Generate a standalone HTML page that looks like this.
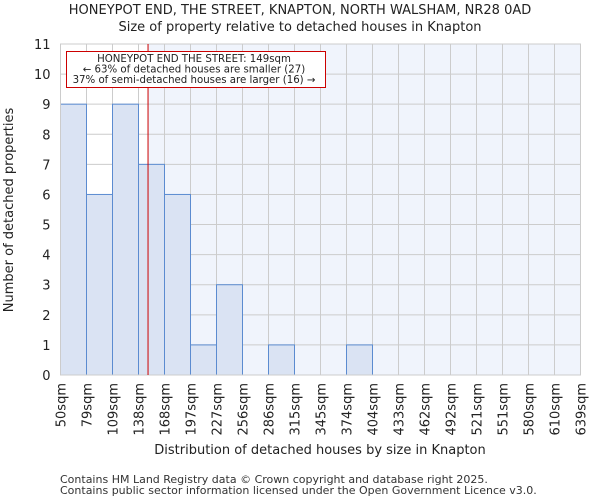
<!DOCTYPE html>
<html><head><meta charset="utf-8"><style>body{margin:0;background:#fff}svg{display:block;font-family:"DejaVu Sans","Liberation Sans",sans-serif}</style></head>
<body>
<svg id="c" width="600" height="500"></svg>
<script>
const binEdges=[50,79,109,138,168,197,227,256,286,315,345,374,404,433,462,492,521,551,580,610,639];
const counts=[9,6,9,7,6,1,3,0,1,0,0,1,0,0,0,0,0,0,0,0];
const yTicks=[0,1,2,3,4,5,6,7,8,9,10,11];
const subjectSize=149;
const NS="http://www.w3.org/2000/svg";
const svg=document.getElementById('c');
const L=60.5,R=580.5,T=44,B=375,nb=counts.length,bw=(R-L)/nb;
function xi(i){return L+i*bw;}
function xv(v){let i=0;while(i<nb-1&&v>binEdges[i+1])i++;return xi(i)+(v-binEdges[i])/(binEdges[i+1]-binEdges[i])*bw;}
function y(v){return B-(v/11)*(B-T);}
function el(t,a,p){const e=document.createElementNS(NS,t);for(const k in a)e.setAttribute(k,a[k]);(p||svg).appendChild(e);return e;}
const sx=xv(subjectSize);
const bg=el('rect',{x:sx,y:T,width:R-sx,height:B-T,fill:'#f0f4fc'});


for(let i=0;i<=nb;i++){const g=el('line',{x1:xi(i),x2:xi(i),y1:T,y2:B,stroke:'#cccccc'});

}
yTicks.forEach(v=>{const g=el('line',{x1:L,x2:R,y1:y(v),y2:y(v),stroke:'#cccccc'});


const t=el('text',{x:L-10,y:y(v)+5,'text-anchor':'end','font-size':13,fill:'#222'});t.textContent=v;

});
counts.forEach((c,i)=>{if(c>0){const r=el('rect',{x:xi(i),y:y(c),width:bw,height:B-y(c),fill:'#dae3f3',stroke:'#5b8bd0','stroke-width':1});

}});
binEdges.forEach((v,i)=>{const t=el('text',{transform:`translate(${xi(i)+5},${B+8}) rotate(-90)`,'text-anchor':'end','font-size':13,fill:'#222'});t.textContent=v+'sqm';

});
const ax=el('rect',{x:L,y:T,width:R-L,height:B-T,fill:'none',stroke:'#cccccc'});


const ml=el('line',{x1:sx,x2:sx,y1:T,y2:B,stroke:'#cc0000','stroke-width':1});


const ab=el('rect',{x:66.5,y:51.5,width:259,height:36,fill:'#fff',stroke:'#cc0000'});


['HONEYPOT END THE STREET: 149sqm','← 63% of detached houses are smaller (27)','37% of semi-detached houses are larger (16) →'].forEach((s,i)=>{const t=el('text',{x:194,y:62+i*10.5,'text-anchor':'middle','font-size':10.2,fill:'#222'});t.textContent=s;

});
function txt(s,a,n){const t=el('text',a);t.textContent=s;}
txt('HONEYPOT END, THE STREET, KNAPTON, NORTH WALSHAM, NR28 0AD',{x:300,y:14,'text-anchor':'middle','font-size':13,fill:'#222'},'chart-title');
txt('Size of property relative to detached houses in Knapton',{x:300,y:31,'text-anchor':'middle','font-size':13,fill:'#222'},'chart-subtitle');
txt('Distribution of detached houses by size in Knapton',{x:320,y:454,'text-anchor':'middle','font-size':13,fill:'#222'},'x-axis-title');
txt('Number of detached properties',{transform:'translate(13,210) rotate(-90)','text-anchor':'middle','font-size':13,fill:'#222'},'y-axis-title');
txt('Contains HM Land Registry data © Crown copyright and database right 2025.',{x:60,y:483,'font-size':11,fill:'#333'},'footer-line-1');
txt('Contains public sector information licensed under the Open Government Licence v3.0.',{x:60,y:494,'font-size':11,fill:'#333'},'footer-line-2');
</script>
</body></html>
